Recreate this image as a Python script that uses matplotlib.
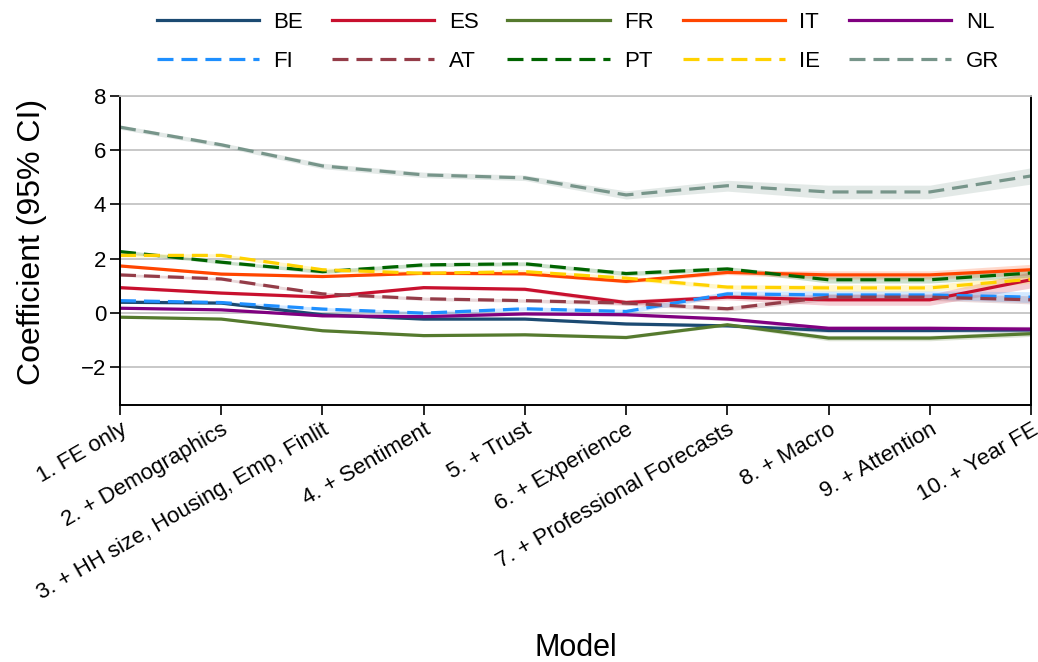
import matplotlib
matplotlib.use("Agg")
import matplotlib.pyplot as plt
import numpy as np

plt.rcParams['font.family'] = ['Liberation Sans', 'DejaVu Sans']

# Model specifications (x axis)
models = ["1. FE only", "2. + Demographics", "3. + HH size, Housing, Emp, Finlit",
          "4. + Sentiment", "5. + Trust", "6. + Experience",
          "7. + Professional Forecasts", "8. + Macro", "9. + Attention",
          "10. + Year FE"]

# Coefficients per country
BE = [0.39, 0.36, -0.07, -0.23, -0.23, -0.41, -0.48, -0.65, -0.65, -0.63]
ES = [0.93, 0.73, 0.58, 0.93, 0.87, 0.38, 0.58, 0.48, 0.48, 1.22]
FR = [-0.16, -0.23, -0.66, -0.84, -0.81, -0.91, -0.44, -0.93, -0.93, -0.77]
IT = [1.73, 1.43, 1.34, 1.46, 1.44, 1.16, 1.49, 1.40, 1.40, 1.59]
NL = [0.17, 0.11, -0.11, -0.14, -0.04, -0.07, -0.23, -0.57, -0.57, -0.60]
FI = [0.45, 0.38, 0.14, -0.01, 0.15, 0.05, 0.70, 0.66, 0.66, 0.58]
AT = [1.40, 1.25, 0.70, 0.52, 0.45, 0.36, 0.15, 0.58, 0.58, 0.48]
PT = [2.26, 1.87, 1.52, 1.77, 1.81, 1.45, 1.62, 1.22, 1.22, 1.47]
IE = [2.12, 2.12, 1.59, 1.46, 1.52, 1.28, 0.95, 0.92, 0.92, 1.24]
GR = [6.85, 6.20, 5.42, 5.09, 4.98, 4.35, 4.69, 4.46, 4.46, 5.05]

# 95% CI half-widths
BE_ci = [0.03, 0.03, 0.04, 0.04, 0.04, 0.05, 0.05, 0.08, 0.08, 0.10]
ES_ci = [0.05, 0.05, 0.05, 0.05, 0.06, 0.10, 0.10, 0.20, 0.20, 0.30]
FR_ci = [0.03, 0.03, 0.04, 0.04, 0.04, 0.05, 0.05, 0.10, 0.10, 0.10]
IT_ci = [0.04, 0.04, 0.04, 0.04, 0.05, 0.06, 0.08, 0.15, 0.15, 0.20]
NL_ci = [0.03, 0.03, 0.04, 0.04, 0.04, 0.05, 0.06, 0.08, 0.08, 0.10]
FI_ci = [0.05, 0.05, 0.06, 0.06, 0.07, 0.08, 0.10, 0.15, 0.15, 0.20]
AT_ci = [0.05, 0.05, 0.06, 0.06, 0.06, 0.08, 0.08, 0.12, 0.12, 0.15]
PT_ci = [0.06, 0.06, 0.07, 0.07, 0.07, 0.08, 0.08, 0.12, 0.12, 0.15]
IE_ci = [0.06, 0.06, 0.07, 0.07, 0.07, 0.08, 0.08, 0.12, 0.12, 0.15]
GR_ci = [0.08, 0.08, 0.10, 0.10, 0.10, 0.15, 0.20, 0.25, 0.25, 0.30]

countries = ["BE", "ES", "FR", "IT", "NL", "FI", "AT", "PT", "IE", "GR"]
values = [BE, ES, FR, IT, NL, FI, AT, PT, IE, GR]
cis = [BE_ci, ES_ci, FR_ci, IT_ci, NL_ci, FI_ci, AT_ci, PT_ci, IE_ci, GR_ci]
colors = ["#1b4a72", "#c8102e", "#557a2e", "#ff4500", "#800080",
          "#1e8fff", "#943c48", "#006400", "#ffd200", "#77958a"]
dashed = [False, False, False, False, False, True, True, True, True, True]

fig = plt.figure(figsize=(10.38, 6.62), dpi=100)
ax = fig.add_axes([120 / 1038, 1 - 405 / 662, (1031 - 120) / 1038, (405 - 96) / 662])

x = np.arange(len(models))
lines = {}
for name, v, ci, c, d in zip(countries, values, cis, colors, dashed):
    v = np.array(v)
    ci = np.array(ci)
    ax.fill_between(x, v - ci, v + ci, color=c, alpha=0.2, lw=0)
    ln, = ax.plot(x, v, color=c, lw=2.3, label=name)
    if d:
        ln.set_dashes((5, 2.5))
    lines[name] = ln

ax.set_xlim(0, 9)
ax.set_ylim(-3.4, 8)
ax.set_yticks([-2, 0, 2, 4, 6, 8])
ax.set_xticks(x)
ax.set_xticklabels(models, rotation=30, ha='right', rotation_mode='anchor')
ax.yaxis.grid(True, color='#c4c4c4', lw=1.3)
ax.set_axisbelow(True)
ax.tick_params(direction='out', length=7, width=1.2, labelsize=16, pad=3)

for s in ['left', 'bottom', 'right']:
    ax.spines[s].set_linewidth(1.4)
ax.spines['top'].set_color('#c4c4c4')
ax.spines['top'].set_linewidth(1.3)

ax.set_ylabel("Coefficient (95% CI)", fontsize=23)
ax.yaxis.set_label_coords(-0.08, 0.527)
fig.text(576 / 1038, 1 - 648 / 662, "Model", fontsize=22, ha='center', va='center')

# legend: row 1 solid, row 2 dashed (column-wise fill)
order = ["BE", "FI", "ES", "AT", "FR", "PT", "IT", "IE", "NL", "GR"]
ax.legend([lines[n] for n in order], order, ncol=5, frameon=False,
          loc='center', bbox_to_anchor=(578 / 1038, 1 - 42 / 662),
          bbox_transform=fig.transFigure, fontsize=16, handlelength=4.6,
          handletextpad=0.65, columnspacing=1.3, labelspacing=0.8)

fig.savefig("out.png", dpi=100)
